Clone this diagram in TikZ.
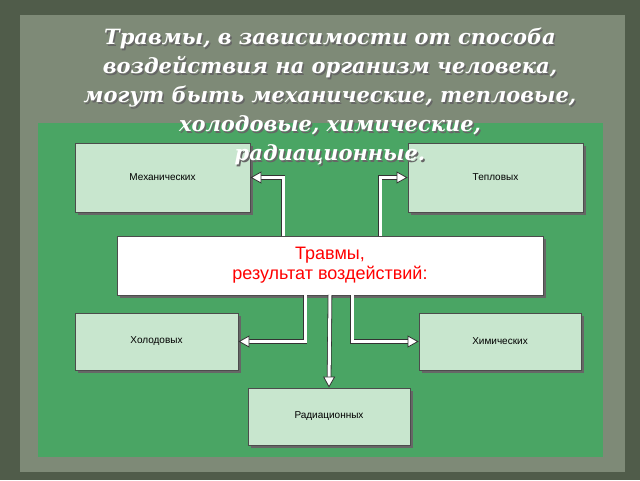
\documentclass[tikz,border=0pt]{standalone}
\usepackage{fontspec}
\setmainfont{Liberation Sans}
\newfontfamily\titlefont{DejaVu Serif}
\usetikzlibrary{arrows.meta}
\definecolor{bgdark}{HTML}{505C4A}
\definecolor{panel}{HTML}{7E8A77}
\definecolor{grn}{HTML}{4AA564}
\definecolor{boxfill}{HTML}{C8E6CE}
\begin{document}
\begin{tikzpicture}[x=1pt,y=-1pt,
  box/.style={draw=black!70,fill=boxfill,line width=0.8pt,font=\fontsize{10}{12}\selectfont},
  conn/.style={draw=black!80,double=white,double distance=3pt,line width=0.8pt,
    -{Triangle[open,fill=white,length=11pt,width=12pt]}}]
\useasboundingbox (0,0) rectangle (640,480);
\fill[bgdark] (0,0) rectangle (640,480);
\fill[panel] (20,15) rectangle (625,472);
\fill[grn] (38,123) rectangle (603,457);
% shadows
\foreach \a/\b/\c/\d in {75/143/250/212,408/143/583/212,117/236/543/295,75/313/238/370,419/313/581/370,248/388/410/445}
  \fill[black!60] (\a+3,\b+3) rectangle (\c+3,\d+3);
\node[box,minimum width=175pt,minimum height=69pt] (m) at (162.5,177.5) {Механических};
\node[box,minimum width=175pt,minimum height=69pt] (t) at (495.5,177.5) {Тепловых};
\node[draw=black!70,fill=white,line width=0.8pt,minimum width=426pt,minimum height=59pt,
  text=red,align=center,font=\fontsize{18}{20}\selectfont] (c) at (330,265.5) {Травмы,\\результат воздействий:};
\node[box,minimum width=163pt,minimum height=57pt] (h) at (156.5,341.5) {Холодовых};
\node[box,minimum width=162pt,minimum height=57pt] (x) at (500,341.5) {Химических};
\node[box,minimum width=162pt,minimum height=57pt] (r) at (329,416.5) {Радиационных};
\coordinate (c1) at (283,236); \coordinate (c2) at (380,236);
\coordinate (c3) at (305,295); \coordinate (c4) at (352,295); \coordinate (c5) at (330,295);
\draw[conn] (c1) |- (m.east);
\draw[conn] (c2) |- (t.west);
\draw[conn] (c3) |- (h.east);
\draw[conn] (c4) |- (x.west);
\draw[conn] (c5) -- (r.north);
\node[align=center,text=black!60,font=\titlefont\bfseries\itshape\fontsize{21}{29}\selectfont] at (331.5,98.5)
 {Травмы, в зависимости от способа\\воздействия на организм человека,\\могут быть механические, тепловые,\\холодовые, химические,\\радиационные.};
\node[align=center,text=white,font=\titlefont\bfseries\itshape\fontsize{21}{29}\selectfont] (title) at (330,97)
 {Травмы, в зависимости от способа\\воздействия на организм человека,\\могут быть механические, тепловые,\\холодовые, химические,\\радиационные.};
\end{tikzpicture}
\end{document}
